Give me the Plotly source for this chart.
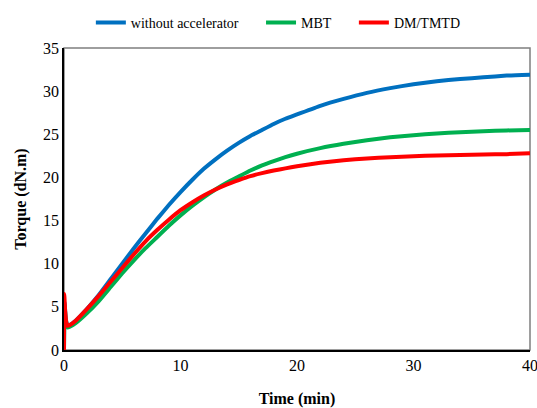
import plotly.graph_objects as go

t_blue = [0, 0.05, 0.15, 0.3, 0.5, 1, 2, 3, 4, 5, 6, 7, 8, 9, 10, 11, 12, 13, 14, 15, 16, 17, 18, 19, 20, 22, 24, 26, 28, 30, 32, 34, 36, 38, 40]
blue = [0, 5.5, 3.6, 2.8, 2.9, 3.4, 4.8, 6.4, 8.2, 10.0, 11.8, 13.5, 15.2, 16.8, 18.3, 19.7, 21.0, 22.1, 23.1, 24.0, 24.8, 25.5, 26.2, 26.8, 27.3, 28.3, 29.1, 29.8, 30.35, 30.8, 31.15, 31.4, 31.6, 31.8, 31.9]

t_green = [0, 0.05, 0.15, 0.3, 0.5, 1, 2, 3, 4, 5, 6, 7, 8, 9, 10, 11, 12, 13, 14, 15, 16, 17, 18, 19, 20, 22, 24, 26, 28, 30, 32, 34, 36, 38, 40]
green = [0, 5.2, 3.4, 2.6, 2.7, 3.1, 4.3, 5.7, 7.3, 8.9, 10.4, 11.8, 13.1, 14.4, 15.6, 16.7, 17.7, 18.6, 19.4, 20.1, 20.8, 21.4, 21.9, 22.35, 22.75, 23.4, 23.9, 24.3, 24.65, 24.9, 25.1, 25.25, 25.35, 25.45, 25.5]

t_red = [0, 0.02, 0.1, 0.2, 0.3, 0.5, 1, 2, 3, 4, 5, 6, 7, 8, 9, 10, 11, 12, 13, 14, 15, 16, 17, 18, 19, 20, 22, 24, 26, 28, 30, 32, 34, 36, 38, 40]
red = [0, 6.5, 4.5, 3.2, 2.8, 2.9, 3.4, 4.8, 6.3, 7.9, 9.5, 11.1, 12.6, 13.9, 15.1, 16.2, 17.1, 17.9, 18.6, 19.2, 19.7, 20.15, 20.5, 20.8, 21.05, 21.3, 21.7, 22.0, 22.2, 22.35, 22.45, 22.55, 22.6, 22.65, 22.7, 22.8]

names = ["without accelerator", "MBT", "DM/TMTD"]
legend_pad = "\u00a0" * 5
colors = ["#0070C0", "#00B050", "#FF0000"]

x_ticks = [0, 10, 20, 30, 40]
y_ticks = [0, 5, 10, 15, 20, 25, 30, 35]

ff = "Times New Roman, Liberation Serif, serif"

fig = go.Figure()
for i, (tx, ty, nm, c) in enumerate(zip([t_blue, t_green, t_red], [blue, green, red], names, colors)):
    label = nm + (legend_pad if i < len(names) - 1 else "")
    fig.add_trace(go.Scatter(x=tx, y=ty, mode="lines", name=label,
                             line=dict(color=c, width=4, shape="spline", smoothing=0.4)))

fig.update_layout(
    width=537, height=408,
    margin=dict(l=64, r=7, t=48, b=58),
    paper_bgcolor="white", plot_bgcolor="white",
    font=dict(family=ff, size=15, color="black"),
    legend=dict(orientation="h", x=0.46, xanchor="center", y=1.03, yanchor="bottom",
                font=dict(family=ff, size=14, color="black"), itemwidth=30, tracegroupgap=0),
    xaxis=dict(range=[0, 40], tickvals=x_ticks, showgrid=False, zeroline=False,
               showline=True, linecolor="black", linewidth=1.5, ticks="",
               ticklabeloverflow="allow", automargin=False,
               tickfont=dict(family=ff, size=16),
               title=dict(text="<b>Time (min)</b>", font=dict(family=ff, size=16), standoff=20)),
    yaxis=dict(range=[0, 35], tickvals=y_ticks, showgrid=False, zeroline=False,
               showline=True, linecolor="black", linewidth=1.5, ticks="",
               automargin=False,
               tickfont=dict(family=ff, size=16),
               title=dict(text="<b>Torque (dN.m)</b>", font=dict(family=ff, size=16), standoff=12)),
    shapes=[dict(type="rect", xref="paper", yref="paper", x0=0, y0=0, x1=1, y1=1,
                 line=dict(color="#7f7f7f", width=1.5), layer="below")],
)

fig.write_html("out.html")
